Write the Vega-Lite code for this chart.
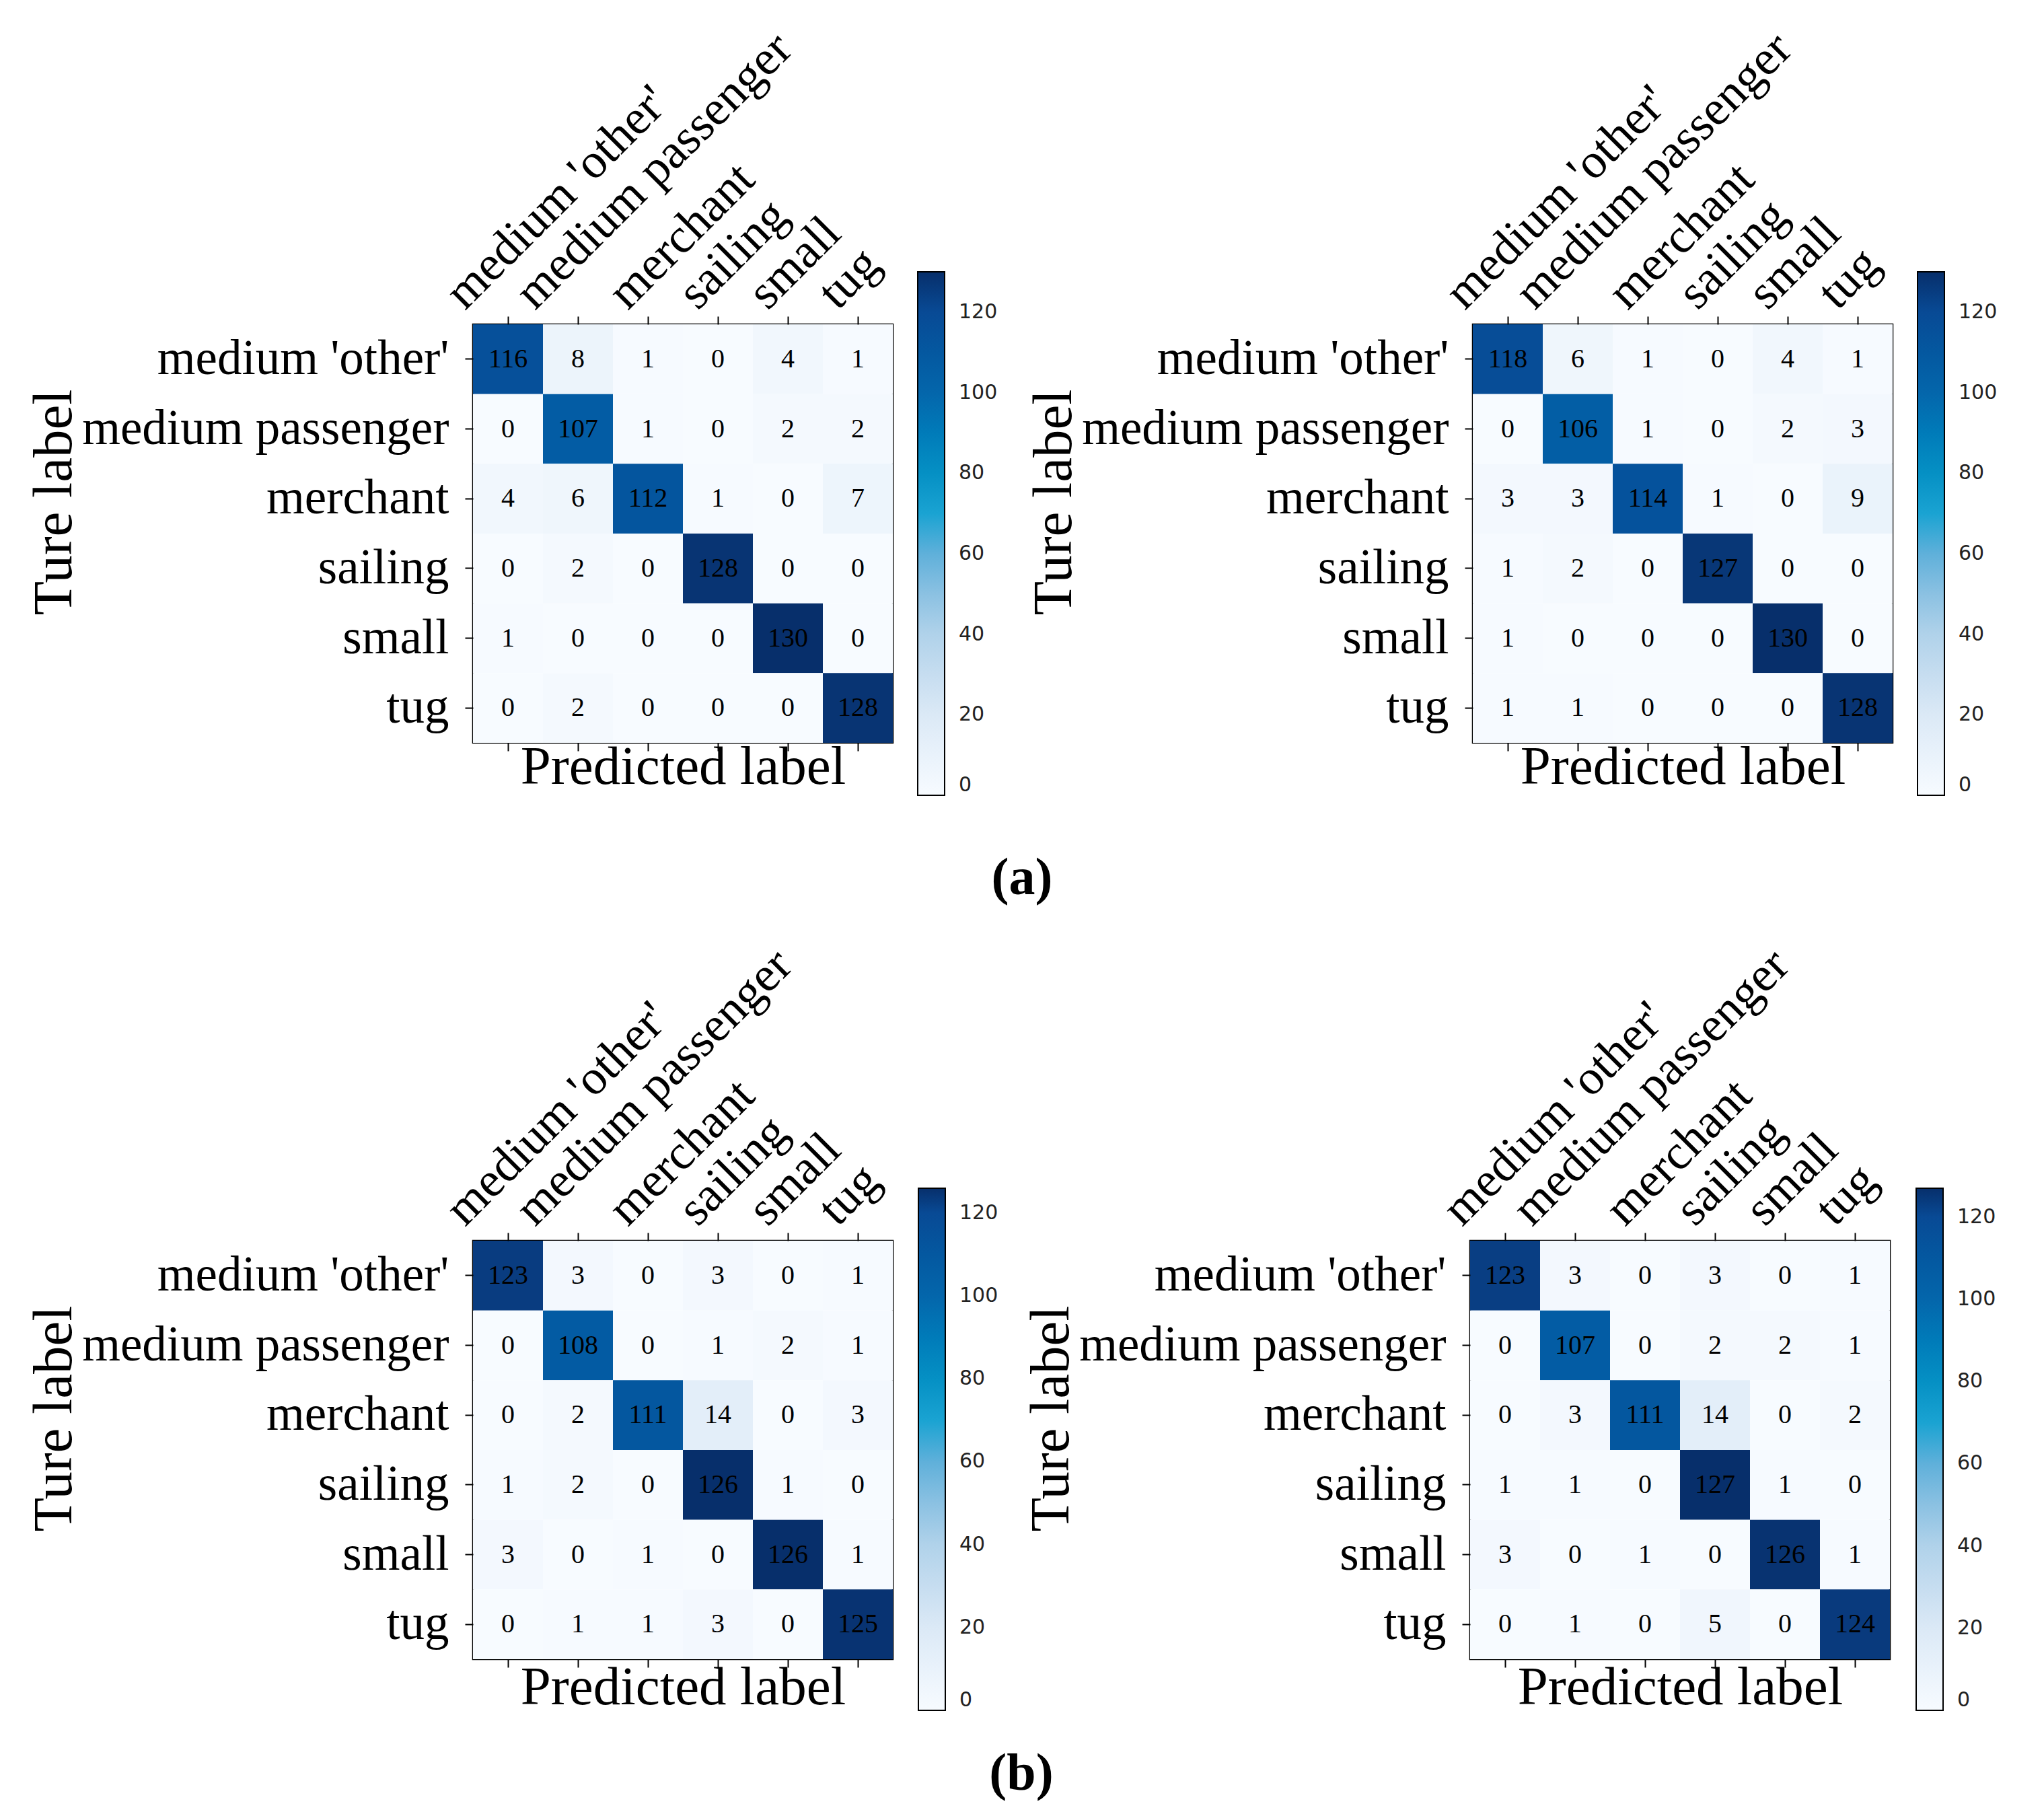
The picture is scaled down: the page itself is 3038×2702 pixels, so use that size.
{
  "$schema": "https://vega.github.io/schema/vega-lite/v6.json",
  "background": "white",
  "padding": {"left": 37, "top": 34, "right": 10, "bottom": 10},
  "datasets": {
    "cm1": [
      {"actual": "medium 'other'", "pred": "medium 'other'", "value": 116},
      {"actual": "medium 'other'", "pred": "medium passenger", "value": 8},
      {"actual": "medium 'other'", "pred": "merchant", "value": 1},
      {"actual": "medium 'other'", "pred": "sailing", "value": 0},
      {"actual": "medium 'other'", "pred": "small", "value": 4},
      {"actual": "medium 'other'", "pred": "tug", "value": 1},
      {"actual": "medium passenger", "pred": "medium 'other'", "value": 0},
      {"actual": "medium passenger", "pred": "medium passenger", "value": 107},
      {"actual": "medium passenger", "pred": "merchant", "value": 1},
      {"actual": "medium passenger", "pred": "sailing", "value": 0},
      {"actual": "medium passenger", "pred": "small", "value": 2},
      {"actual": "medium passenger", "pred": "tug", "value": 2},
      {"actual": "merchant", "pred": "medium 'other'", "value": 4},
      {"actual": "merchant", "pred": "medium passenger", "value": 6},
      {"actual": "merchant", "pred": "merchant", "value": 112},
      {"actual": "merchant", "pred": "sailing", "value": 1},
      {"actual": "merchant", "pred": "small", "value": 0},
      {"actual": "merchant", "pred": "tug", "value": 7},
      {"actual": "sailing", "pred": "medium 'other'", "value": 0},
      {"actual": "sailing", "pred": "medium passenger", "value": 2},
      {"actual": "sailing", "pred": "merchant", "value": 0},
      {"actual": "sailing", "pred": "sailing", "value": 128},
      {"actual": "sailing", "pred": "small", "value": 0},
      {"actual": "sailing", "pred": "tug", "value": 0},
      {"actual": "small", "pred": "medium 'other'", "value": 1},
      {"actual": "small", "pred": "medium passenger", "value": 0},
      {"actual": "small", "pred": "merchant", "value": 0},
      {"actual": "small", "pred": "sailing", "value": 0},
      {"actual": "small", "pred": "small", "value": 130},
      {"actual": "small", "pred": "tug", "value": 0},
      {"actual": "tug", "pred": "medium 'other'", "value": 0},
      {"actual": "tug", "pred": "medium passenger", "value": 2},
      {"actual": "tug", "pred": "merchant", "value": 0},
      {"actual": "tug", "pred": "sailing", "value": 0},
      {"actual": "tug", "pred": "small", "value": 0},
      {"actual": "tug", "pred": "tug", "value": 128}
    ],
    "cm2": [
      {"actual": "medium 'other'", "pred": "medium 'other'", "value": 118},
      {"actual": "medium 'other'", "pred": "medium passenger", "value": 6},
      {"actual": "medium 'other'", "pred": "merchant", "value": 1},
      {"actual": "medium 'other'", "pred": "sailing", "value": 0},
      {"actual": "medium 'other'", "pred": "small", "value": 4},
      {"actual": "medium 'other'", "pred": "tug", "value": 1},
      {"actual": "medium passenger", "pred": "medium 'other'", "value": 0},
      {"actual": "medium passenger", "pred": "medium passenger", "value": 106},
      {"actual": "medium passenger", "pred": "merchant", "value": 1},
      {"actual": "medium passenger", "pred": "sailing", "value": 0},
      {"actual": "medium passenger", "pred": "small", "value": 2},
      {"actual": "medium passenger", "pred": "tug", "value": 3},
      {"actual": "merchant", "pred": "medium 'other'", "value": 3},
      {"actual": "merchant", "pred": "medium passenger", "value": 3},
      {"actual": "merchant", "pred": "merchant", "value": 114},
      {"actual": "merchant", "pred": "sailing", "value": 1},
      {"actual": "merchant", "pred": "small", "value": 0},
      {"actual": "merchant", "pred": "tug", "value": 9},
      {"actual": "sailing", "pred": "medium 'other'", "value": 1},
      {"actual": "sailing", "pred": "medium passenger", "value": 2},
      {"actual": "sailing", "pred": "merchant", "value": 0},
      {"actual": "sailing", "pred": "sailing", "value": 127},
      {"actual": "sailing", "pred": "small", "value": 0},
      {"actual": "sailing", "pred": "tug", "value": 0},
      {"actual": "small", "pred": "medium 'other'", "value": 1},
      {"actual": "small", "pred": "medium passenger", "value": 0},
      {"actual": "small", "pred": "merchant", "value": 0},
      {"actual": "small", "pred": "sailing", "value": 0},
      {"actual": "small", "pred": "small", "value": 130},
      {"actual": "small", "pred": "tug", "value": 0},
      {"actual": "tug", "pred": "medium 'other'", "value": 1},
      {"actual": "tug", "pred": "medium passenger", "value": 1},
      {"actual": "tug", "pred": "merchant", "value": 0},
      {"actual": "tug", "pred": "sailing", "value": 0},
      {"actual": "tug", "pred": "small", "value": 0},
      {"actual": "tug", "pred": "tug", "value": 128}
    ],
    "cm3": [
      {"actual": "medium 'other'", "pred": "medium 'other'", "value": 123},
      {"actual": "medium 'other'", "pred": "medium passenger", "value": 3},
      {"actual": "medium 'other'", "pred": "merchant", "value": 0},
      {"actual": "medium 'other'", "pred": "sailing", "value": 3},
      {"actual": "medium 'other'", "pred": "small", "value": 0},
      {"actual": "medium 'other'", "pred": "tug", "value": 1},
      {"actual": "medium passenger", "pred": "medium 'other'", "value": 0},
      {"actual": "medium passenger", "pred": "medium passenger", "value": 108},
      {"actual": "medium passenger", "pred": "merchant", "value": 0},
      {"actual": "medium passenger", "pred": "sailing", "value": 1},
      {"actual": "medium passenger", "pred": "small", "value": 2},
      {"actual": "medium passenger", "pred": "tug", "value": 1},
      {"actual": "merchant", "pred": "medium 'other'", "value": 0},
      {"actual": "merchant", "pred": "medium passenger", "value": 2},
      {"actual": "merchant", "pred": "merchant", "value": 111},
      {"actual": "merchant", "pred": "sailing", "value": 14},
      {"actual": "merchant", "pred": "small", "value": 0},
      {"actual": "merchant", "pred": "tug", "value": 3},
      {"actual": "sailing", "pred": "medium 'other'", "value": 1},
      {"actual": "sailing", "pred": "medium passenger", "value": 2},
      {"actual": "sailing", "pred": "merchant", "value": 0},
      {"actual": "sailing", "pred": "sailing", "value": 126},
      {"actual": "sailing", "pred": "small", "value": 1},
      {"actual": "sailing", "pred": "tug", "value": 0},
      {"actual": "small", "pred": "medium 'other'", "value": 3},
      {"actual": "small", "pred": "medium passenger", "value": 0},
      {"actual": "small", "pred": "merchant", "value": 1},
      {"actual": "small", "pred": "sailing", "value": 0},
      {"actual": "small", "pred": "small", "value": 126},
      {"actual": "small", "pred": "tug", "value": 1},
      {"actual": "tug", "pred": "medium 'other'", "value": 0},
      {"actual": "tug", "pred": "medium passenger", "value": 1},
      {"actual": "tug", "pred": "merchant", "value": 1},
      {"actual": "tug", "pred": "sailing", "value": 3},
      {"actual": "tug", "pred": "small", "value": 0},
      {"actual": "tug", "pred": "tug", "value": 125}
    ],
    "cm4": [
      {"actual": "medium 'other'", "pred": "medium 'other'", "value": 123},
      {"actual": "medium 'other'", "pred": "medium passenger", "value": 3},
      {"actual": "medium 'other'", "pred": "merchant", "value": 0},
      {"actual": "medium 'other'", "pred": "sailing", "value": 3},
      {"actual": "medium 'other'", "pred": "small", "value": 0},
      {"actual": "medium 'other'", "pred": "tug", "value": 1},
      {"actual": "medium passenger", "pred": "medium 'other'", "value": 0},
      {"actual": "medium passenger", "pred": "medium passenger", "value": 107},
      {"actual": "medium passenger", "pred": "merchant", "value": 0},
      {"actual": "medium passenger", "pred": "sailing", "value": 2},
      {"actual": "medium passenger", "pred": "small", "value": 2},
      {"actual": "medium passenger", "pred": "tug", "value": 1},
      {"actual": "merchant", "pred": "medium 'other'", "value": 0},
      {"actual": "merchant", "pred": "medium passenger", "value": 3},
      {"actual": "merchant", "pred": "merchant", "value": 111},
      {"actual": "merchant", "pred": "sailing", "value": 14},
      {"actual": "merchant", "pred": "small", "value": 0},
      {"actual": "merchant", "pred": "tug", "value": 2},
      {"actual": "sailing", "pred": "medium 'other'", "value": 1},
      {"actual": "sailing", "pred": "medium passenger", "value": 1},
      {"actual": "sailing", "pred": "merchant", "value": 0},
      {"actual": "sailing", "pred": "sailing", "value": 127},
      {"actual": "sailing", "pred": "small", "value": 1},
      {"actual": "sailing", "pred": "tug", "value": 0},
      {"actual": "small", "pred": "medium 'other'", "value": 3},
      {"actual": "small", "pred": "medium passenger", "value": 0},
      {"actual": "small", "pred": "merchant", "value": 1},
      {"actual": "small", "pred": "sailing", "value": 0},
      {"actual": "small", "pred": "small", "value": 126},
      {"actual": "small", "pred": "tug", "value": 1},
      {"actual": "tug", "pred": "medium 'other'", "value": 0},
      {"actual": "tug", "pred": "medium passenger", "value": 1},
      {"actual": "tug", "pred": "merchant", "value": 0},
      {"actual": "tug", "pred": "sailing", "value": 5},
      {"actual": "tug", "pred": "small", "value": 0},
      {"actual": "tug", "pred": "tug", "value": 124}
    ]
  },
  "columns": 1,
  "align": "none",
  "spacing": 50,
  "resolve": {"scale": {"color": "independent"}, "legend": {"color": "independent"}},
  "concat": [
    {
      "bounds": "flush",
      "spacing": 862,
      "resolve": {"scale": {"color": "independent"}, "legend": {"color": "independent"}},
      "title": {"text": "(a)", "orient": "bottom", "anchor": "middle", "offset": 83, "dx": 15, "font": "Liberation Serif", "fontSize": 78, "fontWeight": "bold", "color": "black"},
      "hconcat": [
        {
          "width": 624, "height": 622,
          "data": {"name": "cm1"},
          "layer": [
            {
              "mark": {"type": "rect"},
              "encoding": {
                "x": {"field": "pred", "type": "nominal", "scale": {"domain": ["medium 'other'", "medium passenger", "merchant", "sailing", "small", "tug"]},
                  "axis": {"orient": "top", "labelAngle": -45, "labelAlign": "left", "labelBaseline": "alphabetic", "labelOffset": {"condition": {"test": "indexof(datum.value, 'medium') === 0", "value": -64}, "value": -30}, "labelPadding": 8, "title": "Predicted label", "titleY": 682, "titleBaseline": "alphabetic", "titleFontSize": 81}},
                "y": {"field": "actual", "type": "nominal", "scale": {"domain": ["medium 'other'", "medium passenger", "merchant", "sailing", "small", "tug"]},
                  "axis": {"title": "Ture label", "titleX": -598, "titleY": 264, "titleBaseline": "alphabetic", "labelPadding": 24, "titleFontSize": 83}},
                "color": {"field": "value", "type": "quantitative",
                  "scale": {"domain": [0, 20, 40, 60, 70, 80, 100, 120, 130], "range": ["#f7fbff", "#dbe9f6", "#b0d2ea", "#5fb0da", "#1aa3d2", "#0590c4", "#0466ab", "#084a95", "#072f6b"]},
                  "legend": {"title": null, "orient": "none", "legendX": 661, "legendY": -78, "direction": "vertical", "gradientLength": 778, "gradientThickness": 40, "values": [0, 20, 40, 60, 80, 100, 120], "labelOffset": 21, "labelBaseline": "middle"}}
              }
            },
            {
              "mark": {"type": "text", "font": "Liberation Serif", "fontSize": 40, "color": "black", "align": "center", "baseline": "middle"},
              "encoding": {
                "x": {"field": "pred", "type": "nominal", "scale": {"domain": ["medium 'other'", "medium passenger", "merchant", "sailing", "small", "tug"]},
                  "axis": {"orient": "bottom", "labels": false, "title": null, "domain": false, "ticks": true}},
                "y": {"field": "actual", "type": "nominal", "scale": {"domain": ["medium 'other'", "medium passenger", "merchant", "sailing", "small", "tug"]}, "axis": null},
                "text": {"field": "value", "type": "quantitative"}
              }
            }
          ],
          "resolve": {"axis": {"x": "independent", "y": "independent"}}
        },
        {
          "width": 624, "height": 622,
          "data": {"name": "cm2"},
          "layer": [
            {
              "mark": {"type": "rect"},
              "encoding": {
                "x": {"field": "pred", "type": "nominal", "scale": {"domain": ["medium 'other'", "medium passenger", "merchant", "sailing", "small", "tug"]},
                  "axis": {"orient": "top", "labelAngle": -45, "labelAlign": "left", "labelBaseline": "alphabetic", "labelOffset": {"condition": {"test": "indexof(datum.value, 'medium') === 0", "value": -64}, "value": -30}, "labelPadding": 8, "title": "Predicted label", "titleY": 682, "titleBaseline": "alphabetic", "titleFontSize": 81}},
                "y": {"field": "actual", "type": "nominal", "scale": {"domain": ["medium 'other'", "medium passenger", "merchant", "sailing", "small", "tug"]},
                  "axis": {"title": "Ture label", "titleX": -598, "titleY": 264, "titleBaseline": "alphabetic", "labelPadding": 24, "titleFontSize": 83}},
                "color": {"field": "value", "type": "quantitative",
                  "scale": {"domain": [0, 20, 40, 60, 70, 80, 100, 120, 130], "range": ["#f7fbff", "#dbe9f6", "#b0d2ea", "#5fb0da", "#1aa3d2", "#0590c4", "#0466ab", "#084a95", "#072f6b"]},
                  "legend": {"title": null, "orient": "none", "legendX": 661, "legendY": -78, "direction": "vertical", "gradientLength": 778, "gradientThickness": 40, "values": [0, 20, 40, 60, 80, 100, 120], "labelOffset": 21, "labelBaseline": "middle"}}
              }
            },
            {
              "mark": {"type": "text", "font": "Liberation Serif", "fontSize": 40, "color": "black", "align": "center", "baseline": "middle"},
              "encoding": {
                "x": {"field": "pred", "type": "nominal", "scale": {"domain": ["medium 'other'", "medium passenger", "merchant", "sailing", "small", "tug"]},
                  "axis": {"orient": "bottom", "labels": false, "title": null, "domain": false, "ticks": true}},
                "y": {"field": "actual", "type": "nominal", "scale": {"domain": ["medium 'other'", "medium passenger", "merchant", "sailing", "small", "tug"]}, "axis": null},
                "text": {"field": "value", "type": "quantitative"}
              }
            }
          ],
          "resolve": {"axis": {"x": "independent", "y": "independent"}}
        }
      ]
    },
    {
      "bounds": "flush",
      "spacing": 858,
      "resolve": {"scale": {"color": "independent"}, "legend": {"color": "independent"}},
      "title": {"text": "(b)", "orient": "bottom", "anchor": "middle", "offset": 49, "dx": 15, "font": "Liberation Serif", "fontSize": 78, "fontWeight": "bold", "color": "black"},
      "hconcat": [
        {
          "width": 624, "height": 622,
          "data": {"name": "cm3"},
          "layer": [
            {
              "mark": {"type": "rect"},
              "encoding": {
                "x": {"field": "pred", "type": "nominal", "scale": {"domain": ["medium 'other'", "medium passenger", "merchant", "sailing", "small", "tug"]},
                  "axis": {"orient": "top", "labelAngle": -45, "labelAlign": "left", "labelBaseline": "alphabetic", "labelOffset": {"condition": {"test": "indexof(datum.value, 'medium') === 0", "value": -64}, "value": -30}, "labelPadding": 8, "title": "Predicted label", "titleY": 688, "titleBaseline": "alphabetic", "titleFontSize": 81}},
                "y": {"field": "actual", "type": "nominal", "scale": {"domain": ["medium 'other'", "medium passenger", "merchant", "sailing", "small", "tug"]},
                  "axis": {"title": "Ture label", "titleX": -598, "titleY": 264, "titleBaseline": "alphabetic", "labelPadding": 24, "titleFontSize": 83}},
                "color": {"field": "value", "type": "quantitative",
                  "scale": {"domain": [0, 20, 40, 60, 70, 80, 100, 120, 126], "range": ["#f7fbff", "#dbe9f6", "#b0d2ea", "#5fb0da", "#1aa3d2", "#0590c4", "#0466ab", "#084a95", "#072f6b"]},
                  "legend": {"title": null, "orient": "none", "legendX": 662, "legendY": -78, "direction": "vertical", "gradientLength": 776, "gradientThickness": 40, "values": [0, 20, 40, 60, 80, 100, 120], "labelOffset": 21, "labelBaseline": "middle"}}
              }
            },
            {
              "mark": {"type": "text", "font": "Liberation Serif", "fontSize": 40, "color": "black", "align": "center", "baseline": "middle"},
              "encoding": {
                "x": {"field": "pred", "type": "nominal", "scale": {"domain": ["medium 'other'", "medium passenger", "merchant", "sailing", "small", "tug"]},
                  "axis": {"orient": "bottom", "labels": false, "title": null, "domain": false, "ticks": true}},
                "y": {"field": "actual", "type": "nominal", "scale": {"domain": ["medium 'other'", "medium passenger", "merchant", "sailing", "small", "tug"]}, "axis": null},
                "text": {"field": "value", "type": "quantitative"}
              }
            }
          ],
          "resolve": {"axis": {"x": "independent", "y": "independent"}}
        },
        {
          "width": 624, "height": 622,
          "data": {"name": "cm4"},
          "layer": [
            {
              "mark": {"type": "rect"},
              "encoding": {
                "x": {"field": "pred", "type": "nominal", "scale": {"domain": ["medium 'other'", "medium passenger", "merchant", "sailing", "small", "tug"]},
                  "axis": {"orient": "top", "labelAngle": -45, "labelAlign": "left", "labelBaseline": "alphabetic", "labelOffset": {"condition": {"test": "indexof(datum.value, 'medium') === 0", "value": -64}, "value": -30}, "labelPadding": 8, "title": "Predicted label", "titleY": 688, "titleBaseline": "alphabetic", "titleFontSize": 81}},
                "y": {"field": "actual", "type": "nominal", "scale": {"domain": ["medium 'other'", "medium passenger", "merchant", "sailing", "small", "tug"]},
                  "axis": {"title": "Ture label", "titleX": -598, "titleY": 264, "titleBaseline": "alphabetic", "labelPadding": 24, "titleFontSize": 83}},
                "color": {"field": "value", "type": "quantitative",
                  "scale": {"domain": [0, 20, 40, 60, 70, 80, 100, 120, 127], "range": ["#f7fbff", "#dbe9f6", "#b0d2ea", "#5fb0da", "#1aa3d2", "#0590c4", "#0466ab", "#084a95", "#072f6b"]},
                  "legend": {"title": null, "orient": "none", "legendX": 663, "legendY": -78, "direction": "vertical", "gradientLength": 776, "gradientThickness": 40, "values": [0, 20, 40, 60, 80, 100, 120], "labelOffset": 21, "labelBaseline": "middle"}}
              }
            },
            {
              "mark": {"type": "text", "font": "Liberation Serif", "fontSize": 40, "color": "black", "align": "center", "baseline": "middle"},
              "encoding": {
                "x": {"field": "pred", "type": "nominal", "scale": {"domain": ["medium 'other'", "medium passenger", "merchant", "sailing", "small", "tug"]},
                  "axis": {"orient": "bottom", "labels": false, "title": null, "domain": false, "ticks": true}},
                "y": {"field": "actual", "type": "nominal", "scale": {"domain": ["medium 'other'", "medium passenger", "merchant", "sailing", "small", "tug"]}, "axis": null},
                "text": {"field": "value", "type": "quantitative"}
              }
            }
          ],
          "resolve": {"axis": {"x": "independent", "y": "independent"}}
        }
      ]
    }
  ],
  "config": {
    "view": {"stroke": "black", "strokeWidth": 2.5},
    "axis": {
      "domain": false, "grid": false,
      "tickColor": "black", "tickWidth": 2, "tickSize": 12,
      "labelColor": "black", "labelFont": "Liberation Serif", "labelFontSize": 73,
      "labelLimit": 0, "labelOverlap": false, "labelFlush": false,
      "titleColor": "black", "titleFont": "Liberation Serif", "titleFontWeight": "normal"
    },
    "legend": {
      "padding": 0,
      "gradientStrokeColor": "black", "gradientStrokeWidth": 2,
      "labelFont": "DejaVu Sans", "labelFontSize": 30, "labelColor": "#222222",
      "labelOverlap": false
    }
  }
}
